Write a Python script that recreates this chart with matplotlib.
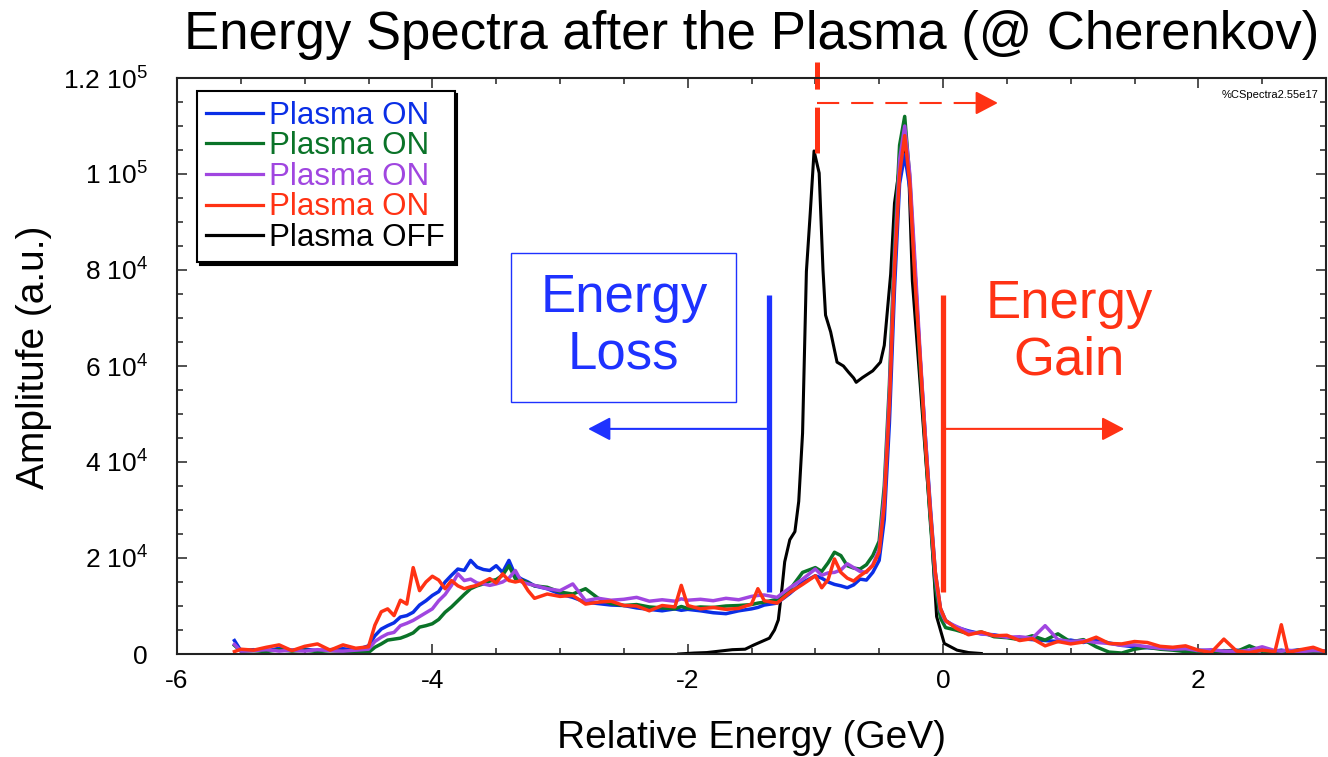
import numpy as np
import matplotlib
matplotlib.use("Agg")
import matplotlib.pyplot as plt
from matplotlib.patches import Rectangle

plt.rcParams['font.family'] = ['Liberation Sans', 'DejaVu Sans']
plt.rcParams['mathtext.default'] = 'regular'
plt.rcParams['axes.unicode_minus'] = False
plt.rcParams['lines.scale_dashes'] = False

# relative energy bins (GeV) shared by the plasma ON spectra
x_on = [-5.55, -5.5, -5.4, -5.3, -5.2, -5.1, -5.0, -4.9, -4.8, -4.7, -4.6, -4.5,
        -4.45, -4.4, -4.35, -4.3, -4.25, -4.2, -4.15, -4.1, -4.05, -4.0, -3.95, -3.9, -3.85,
        -3.8, -3.75, -3.7, -3.65, -3.6, -3.55, -3.5, -3.45, -3.4, -3.35, -3.3, -3.25, -3.2,
        -3.1, -3.0, -2.9, -2.8, -2.7, -2.6, -2.5, -2.4, -2.3, -2.2, -2.1, -2.05, -2.0,
        -1.9, -1.8, -1.7, -1.6, -1.5, -1.45, -1.4, -1.3, -1.2, -1.1, -1.0,
        -0.95, -0.9, -0.85, -0.8, -0.75, -0.7, -0.65, -0.6, -0.55, -0.5,
        -0.46, -0.42, -0.38, -0.34, -0.3, -0.26, -0.22, -0.18, -0.14, -0.1, -0.06, -0.02, 0.02,
        0.1, 0.2, 0.3, 0.4, 0.5, 0.6, 0.7, 0.8, 0.9, 1.0, 1.1, 1.2, 1.3,
        1.4, 1.5, 1.6, 1.7, 1.8, 1.9, 2.0, 2.1, 2.2, 2.3, 2.4, 2.5, 2.6,
        2.65, 2.7, 2.8, 2.9, 3.0]

# amplitudes in units of 1e3
on_blue = [2.8, 0.7, 0.9, 0.6, 1.2, 0.8, 1.0, 0.7, 0.9, 1.1, 0.8, 1.7,
           3.8, 5.2, 5.9, 6.5, 7.7, 8.0, 8.7, 10.2, 11.1, 12.2, 13.0, 15.0, 16.4,
           17.7, 17.4, 19.5, 18.1, 17.6, 17.4, 18.4, 17.0, 19.5, 16.4, 15.6, 15.0, 14.2,
           13.6, 12.5, 11.8, 10.8, 10.5, 10.2, 10.1, 9.6, 9.3, 9.0, 9.4, 9.1, 9.3,
           9.0, 8.6, 8.4, 9.0, 9.4, 9.7, 10.2, 10.6, 12.6, 14.9, 16.3,
           15.8, 15.0, 14.5, 14.2, 13.8, 14.4, 15.6, 15.4, 17.0, 19.5,
           28, 48, 76, 98, 104, 97, 80, 62, 46, 31, 17, 9.5, 7.0,
           5.6, 4.8, 4.2, 4.0, 3.5, 3.2, 3.0, 2.8, 2.6, 2.9, 2.4, 3.0, 2.3,
           1.8, 1.5, 1.3, 1.2, 1.0, 0.9, 0.8, 0.7, 0.6, 0.8, 0.5, 0.7, 0.6,
           0.8, 0.6, 0.9, 0.5, 0.6]
on_green = [1.8, 0.6, 0.7, 0.5, 0.9, 0.6, 0.8, 0.5, 0.7, 0.6, 0.5, 0.3,
            1.4, 2.1, 2.9, 3.1, 3.3, 3.8, 4.4, 5.6, 5.9, 6.3, 7.2, 8.7, 9.8,
            11.1, 12.4, 13.6, 14.2, 14.6, 15.2, 15.5, 16.4, 18.4, 15.7, 15.4, 14.8, 14.2,
            13.9, 12.9, 12.5, 13.6, 11.6, 10.5, 10.1, 10.3, 9.8, 9.6, 9.4, 9.9, 9.5,
            9.8, 9.7, 10.0, 10.1, 10.3, 10.6, 10.8, 11.4, 13.4, 17.0, 18.0,
            17.2, 19.0, 21.2, 20.5, 18.4, 17.9, 17.7, 18.6, 20.5, 23.5,
            35, 56, 85, 106, 112, 99, 80, 60, 44, 28, 14, 7.5, 5.5,
            5.0, 4.2, 4.6, 3.6, 3.4, 3.0, 3.8, 2.9, 4.2, 2.5, 3.0, 1.5, 0.4,
            0.2, 1.0, 1.4, 1.0, 0.8, 0.5, 0.6, 0.4, 0.7, 0.5, 1.7, 0.6, 0.5,
            0.7, 0.5, 0.8, 0.4, 0.6]
on_purple = [2.0, 0.6, 0.7, 0.9, 0.6, 0.8, 0.6, 0.9, 0.7, 0.6, 0.8, 1.0,
             2.6, 3.5, 4.2, 4.5, 5.9, 6.4, 7.0, 7.8, 8.6, 9.4, 11.1, 12.4, 14.3,
             16.7, 15.3, 15.6, 14.8, 14.6, 14.3, 14.6, 15.0, 15.8, 17.4, 15.0, 14.6, 14.3,
             13.6, 13.2, 14.6, 11.1, 11.6, 11.2, 11.4, 11.8, 11.0, 11.3, 11.0, 11.5, 11.2,
             11.4, 11.1, 11.6, 11.3, 12.0, 12.2, 12.3, 11.8, 13.8, 15.6, 17.7,
             16.4, 16.9, 17.0, 17.5, 18.8, 18.0, 17.2, 17.0, 18.6, 21.8,
             33, 54, 82, 103, 110, 100, 82, 63, 46, 30, 16, 9.0, 6.8,
             5.8, 4.6, 4.2, 3.9, 3.5, 3.6, 3.3, 5.9, 3.0, 2.6, 2.8, 2.4, 2.2,
             1.8, 1.9, 1.5, 1.2, 1.0, 1.1, 0.7, 0.9, 0.6, 0.5, 0.8, 1.5, 0.7,
             0.6, 0.8, 0.5, 0.7, 0.6]
on_red = [0.5, 1.0, 0.8, 1.4, 1.9, 0.7, 1.6, 2.1, 0.8, 1.9, 1.2, 1.5,
          6.0, 8.8, 9.4, 8.0, 11.2, 10.4, 18.0, 13.2, 15.0, 16.2, 15.4, 13.6, 15.3,
          14.2, 13.6, 14.0, 14.3, 15.0, 15.7, 14.8, 16.7, 15.3, 15.0, 15.3, 13.2, 11.6,
          12.5, 12.0, 12.2, 10.4, 10.8, 11.0, 10.1, 10.0, 9.0, 10.1, 9.8, 14.3, 10.1,
          9.4, 9.7, 9.3, 9.5, 10.4, 13.6, 11.1, 10.6, 12.8, 14.5, 16.3,
          13.8, 15.5, 19.8, 17.0, 15.8, 15.2, 16.3, 17.2, 18.4, 21.2,
          31, 52, 80, 100, 108, 98, 78, 62, 45, 30, 17, 9.5, 7.0,
          5.4, 4.0, 4.6, 3.8, 3.9, 2.8, 3.2, 1.7, 2.6, 2.1, 2.5, 3.5, 2.2,
          2.1, 2.6, 2.4, 1.6, 1.4, 1.7, 0.8, 0.3, 3.1, 0.6, 0.3, 0.8, 0.5,
          6.1, 0.3, 0.9, 1.4, 0.4]

# plasma OFF spectrum
x_off = [-2.07, -1.95, -1.85, -1.75, -1.65, -1.55, -1.48, -1.42, -1.36, -1.32, -1.29, -1.26, -1.24,
         -1.2, -1.16, -1.13, -1.1, -1.07, -1.04, -1.01, -0.97, -0.94, -0.92, -0.88, -0.83, -0.78,
         -0.74, -0.7, -0.68, -0.63, -0.55, -0.49, -0.46, -0.41, -0.38, -0.34, -0.31, -0.27, -0.24,
         -0.18, -0.13, -0.09, -0.05, 0.01, 0.11, 0.2, 0.3]
off_black = [0.0, 0.2, 0.3, 0.6, 0.9, 1.0, 1.9, 2.6, 3.3, 5.0, 7.1, 14, 19.2,
             23.8, 25.5, 31.8, 46, 79.7, 91.8, 104.8, 100.2, 80, 70.6, 67.1, 60.8, 60.0,
             58.7, 57.5, 56.6, 57.6, 59.0, 60.8, 64.3, 79.1, 93.9, 101.7, 105.9, 101.7, 77.7,
             56.6, 38.8, 24.8, 7.8, 2.2, 0.8, 0.3, 0.1]

labels_on = ['Plasma ON', 'Plasma ON', 'Plasma ON', 'Plasma ON']
colors_on = ['#0a2ee6', '#0a7328', '#a046e0', '#ff3214']
yticks = [0, 2e4, 4e4, 6e4, 8e4, 1e5, 1.2e5]
ytick_labels = ['0', '2 10$^4$', '4 10$^4$', '6 10$^4$', '8 10$^4$', '1 10$^5$', '1.2 10$^5$']
xticks = [-6, -4, -2, 0, 2]

ann_blue = '#1e32ff'
ann_red = '#ff3214'

fig = plt.figure(figsize=(13.28, 7.57), dpi=100)
ax = fig.add_axes([177 / 1328, 103 / 757, 1149 / 1328, 576 / 757])

h_off, = ax.plot(x_off, np.array(off_black) * 1e3, color='black', lw=2.2, label='Plasma OFF')
handles = []
for ys, c, lab in zip([on_blue, on_green, on_purple, on_red], colors_on, labels_on):
    h, = ax.plot(x_on, np.array(ys) * 1e3, color=c, lw=2.5, label=lab)
    handles.append(h)
handles.append(h_off)

ax.set_xlim(-6, 3)
ax.set_ylim(0, 1.2e5)
ax.set_xticks(xticks)
ax.set_xticks(np.arange(-6, 3.01, 0.5), minor=True)
ax.set_yticks(yticks, ytick_labels)
ax.set_yticks(np.arange(0, 1.2e5 + 1, 5e3), minor=True)
ax.tick_params(which='both', direction='in', top=True, right=True, width=1.1, color='#222222')
ax.tick_params(which='major', length=7.5)
ax.tick_params(which='minor', length=4.5)
ax.tick_params(axis='y', which='major', pad=21, labelsize=19)
ax.tick_params(axis='x', which='major', pad=11, labelsize=19)
for s in ax.spines.values():
    s.set_linewidth(1.5)
    s.set_color('#222222')

ax.set_xlabel('Relative Energy (GeV)', fontsize=28)
ax.xaxis.label.set_va('center')
ax.xaxis.set_label_coords(0.5, -0.146)
ax.set_ylabel('Amplitufe (a.u.)', fontsize=28)
ax.yaxis.label.set_va('center')
ax.yaxis.set_label_coords(-0.1245, 0.515)
ax.text(0.5, 1.074, 'Energy Spectra after the Plasma (@ Cherenkov)', transform=ax.transAxes,
        ha='center', va='center', fontsize=38)
ax.text(0.993, 0.97, '%CSpectra2.55e17', transform=ax.transAxes, ha='right', va='center',
        fontsize=8)

leg = ax.legend(handles=handles, loc='upper left', bbox_to_anchor=(0.0174, 0.977),
                borderaxespad=0, fontsize=22.5, labelcolor='linecolor', handlelength=1.8,
                handletextpad=0.22, borderpad=0.3, labelspacing=0.02, fancybox=False,
                framealpha=1, edgecolor='black', shadow={'color': 'black', 'alpha': 1})
leg.get_frame().set_linewidth(1.5)
for ln in leg.get_lines():
    ln.set_linewidth(2.3)

# energy loss annotation
ax.add_patch(Rectangle((-3.384, 52.5e3), 1.763, 31e3, fill=False, ec=ann_blue, lw=1.0))
ax.text(-2.50, 68.3e3, 'Energy\nLoss', color=ann_blue, fontsize=38, ha='center', va='center',
        linespacing=1.15)
ax.plot([-1.363, -1.363], [12.9e3, 74.8e3], color=ann_blue, lw=3.8, solid_capstyle='butt')
ax.annotate('', xy=(-2.78, 46.9e3), xytext=(-1.363, 46.9e3),
            arrowprops=dict(arrowstyle='-|>,head_length=13.7,head_width=7.2', mutation_scale=1,
                            color=ann_blue, lw=1.5, shrinkA=0, shrinkB=0))

# energy gain annotation
ax.text(0.99, 67e3, 'Energy\nGain', color=ann_red, fontsize=38, ha='center', va='center',
        linespacing=1.15)
ax.plot([0.0, 0.0], [12.9e3, 74.8e3], color=ann_red, lw=3.8, solid_capstyle='butt')
ax.annotate('', xy=(1.42, 46.9e3), xytext=(0.0, 46.9e3),
            arrowprops=dict(arrowstyle='-|>,head_length=13.7,head_width=7.2', mutation_scale=1,
                            color=ann_red, lw=1.5, shrinkA=0, shrinkB=0))

# shift of the OFF peak (dashed marker)
ax.plot([-0.987, -0.987], [123.3e3, 104.4e3], color=ann_red, lw=3.6, dashes=(19.5, 13, 33, 100),
        clip_on=False, solid_capstyle='butt', dash_capstyle='butt')
ax.plot([-0.987, 0.29], [114.8e3, 114.8e3], color=ann_red, lw=1.5, dashes=(16, 8.6),
        dash_capstyle='butt')
ax.annotate('', xy=(0.43, 114.8e3), xytext=(0.27, 114.8e3),
            arrowprops=dict(arrowstyle='-|>,head_length=13.7,head_width=7.2', mutation_scale=1,
                            color=ann_red, lw=1.5, shrinkA=0, shrinkB=0))

fig.savefig('out.png', dpi=100)
